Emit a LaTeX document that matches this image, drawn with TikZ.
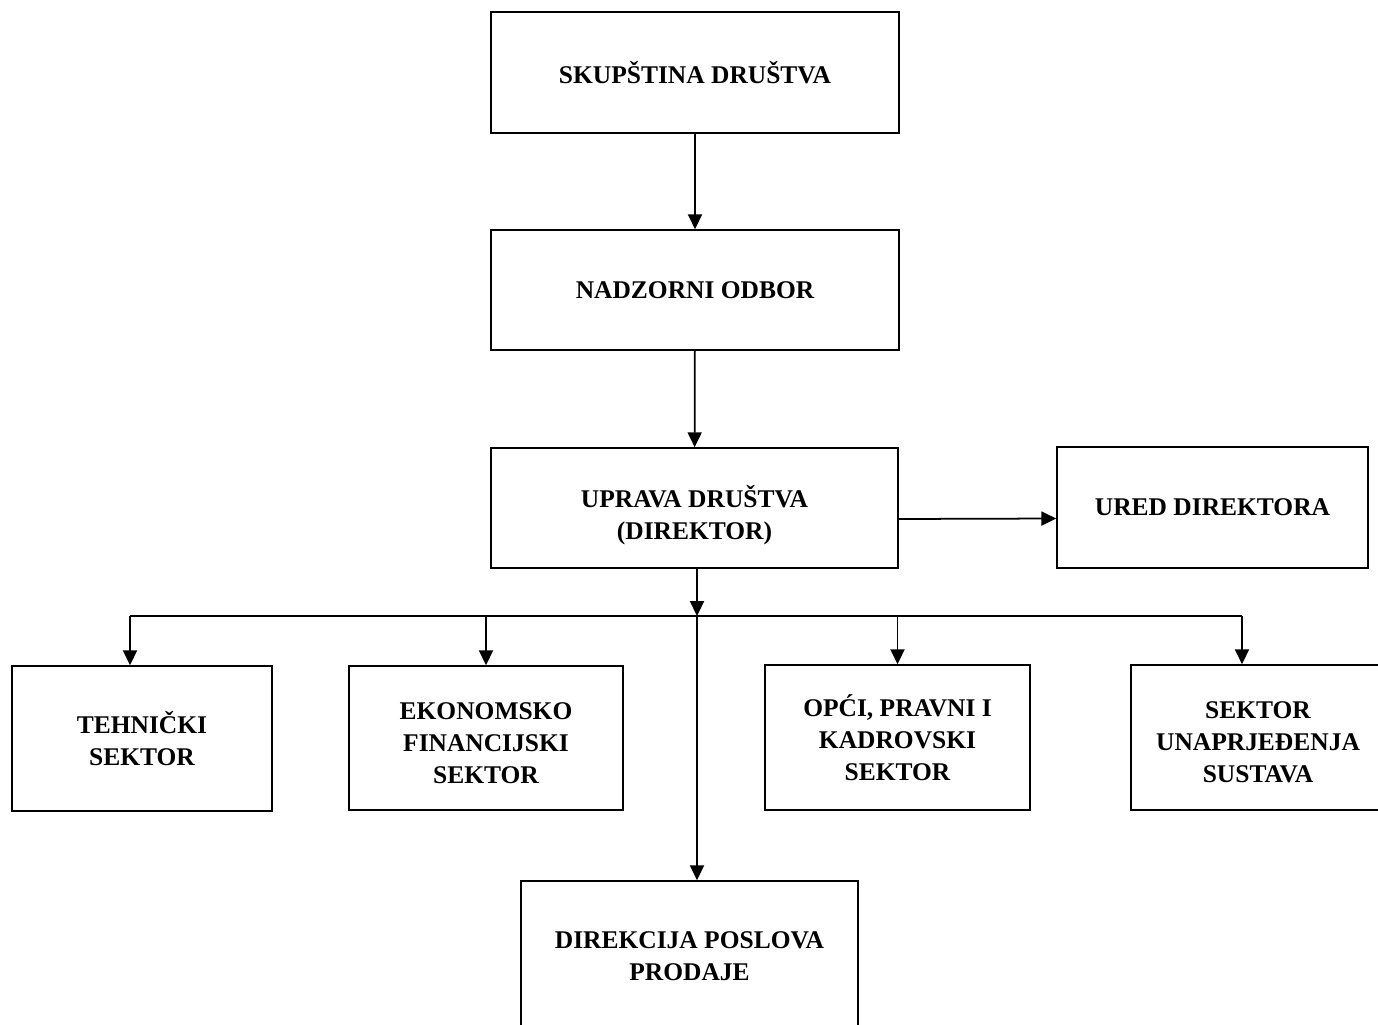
\documentclass[tikz,border=0pt]{standalone}
\usepackage{fontspec}
\setmainfont{Liberation Serif}
\usetikzlibrary{arrows.meta}

\tikzset{
  box/.style = {draw, line width = 0.9pt, align = center, inner sep = 0pt,
                font = \fontsize{14.5}{18.2}\selectfont\bfseries},
  arr/.style = {line width = 1pt, -{Triangle[length = 8.5pt, width = 8pt]}}
}

\begin{document}
\begin{tikzpicture}[x = 0.02cm, y = -0.02cm]
\useasboundingbox (0,0) rectangle (1378,1024); % page of the picture
\node[box, minimum width = 8.16cm, minimum height = 2.42cm] (skup) at (695,72.5) {SKUPŠTINA DRUŠTVA};
\node[box, minimum width = 8.16cm, minimum height = 2.40cm] (nadz) at (695,290) {NADZORNI ODBOR};
\node[box, minimum width = 8.14cm, minimum height = 2.40cm, text height = 39pt] (uprava) at (694.5,508) {UPRAVA DRUŠTVA\\(DIREKTOR)};
\node[box, minimum width = 6.22cm, minimum height = 2.42cm] (ured) at (1212.5,507.5) {URED DIREKTORA};
\node[box, minimum width = 5.20cm, minimum height = 2.90cm] (teh) at (142,738.5) {TEHNIČKI\\SEKTOR};
\node[box, minimum width = 5.48cm, minimum height = 2.88cm, text height = 51.5pt] (eko) at (486,738) {EKONOMSKO\\FINANCIJSKI\\SEKTOR};
\node[box, minimum width = 5.30cm, minimum height = 2.90cm] (opci) at (897.5,737.5) {OPĆI, PRAVNI I\\KADROVSKI\\SEKTOR};
\node[box, minimum width = 5.08cm, minimum height = 2.90cm, text height = 51.5pt] (unap) at (1258,737.5) {SEKTOR\\UNAPRJEĐENJA\\SUSTAVA};
\node[box, minimum width = 6.74cm, minimum height = 3.02cm] (direk) at (689.5,956.5) {DIREKCIJA POSLOVA\\PRODAJE};
% connectors
\coordinate (bus) at (697,616);
\coordinate (busl) at (130,616);
\coordinate (busr) at (1242,616);
\draw[arr] (skup) -- (nadz);
\draw[arr] (nadz) -- (uprava);
\draw[arr] ([yshift = -0.22cm]uprava.east) -- ([yshift = -0.22cm]ured.west);
\draw[arr] (uprava.south -| bus) -- (bus);
\draw[line width = 1pt] (busl) -- (busr); % sector line
\draw[arr] (busl) -- (busl |- teh.north);
\draw[arr] (eko.north |- bus) -- (eko.north);
\draw[arr] (opci.north |- bus) -- (opci.north);
\draw[arr] (busr) -- (busr |- unap.north);
\draw[arr] (bus) -- (bus |- direk.north);
\end{tikzpicture}
\end{document}
